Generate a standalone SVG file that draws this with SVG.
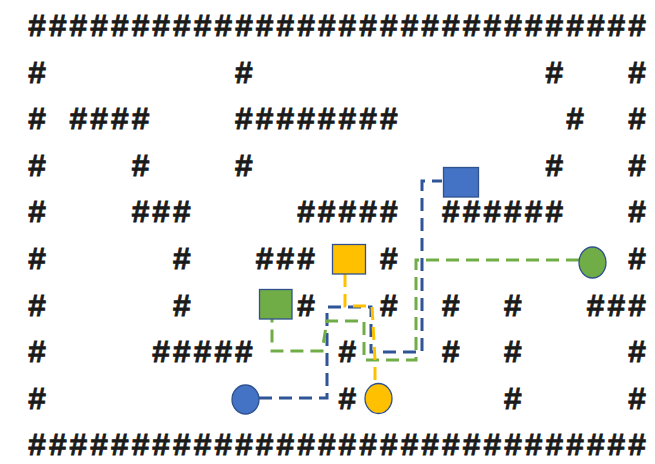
<svg xmlns="http://www.w3.org/2000/svg" width="655" height="464" viewBox="0 0 655 464">
<style>
.m{font-family:"Liberation Mono","DejaVu Sans Mono",monospace;font-size:31px;font-weight:bold;letter-spacing:2.09px;fill:#1a1a1a;stroke:#1a1a1a;stroke-width:0.8}
.d{fill:none;stroke-width:3;stroke-dasharray:13 7}
.b{stroke:#2F5597}.g{stroke:#70AD47}.y{stroke:#FFC000}
.o{stroke:#2F528F;stroke-width:1.3}
</style>
<rect width="655" height="464" fill="#fff"/>
<g id="maze" class="m" transform="translate(-0.3,0.3)">
<text x="28" y="36">##############################</text>
<text x="28" y="82.6">#</text><text x="234.9" y="82.6">#</text><text x="545.25" y="82.6">#</text><text x="628.01" y="82.6">#</text>
<text x="28" y="129">#</text><text x="69.38" y="129">####</text><text x="234.9" y="129">########</text><text x="565.94" y="129">#</text><text x="628.01" y="129">#</text>
<text x="28" y="175.6">#</text><text x="131.45" y="175.6">#</text><text x="234.9" y="175.6">#</text><text x="545.25" y="175.6">#</text><text x="628.01" y="175.6">#</text>
<text x="28" y="222.2">#</text><text x="131.45" y="222.2">###</text><text x="296.97" y="222.2">#####</text><text x="441.8" y="222.2">######</text><text x="628.01" y="222.2">#</text>
<text x="28" y="268.8">#</text><text x="172.83" y="268.8">#</text><text x="255.59" y="268.8">###</text><text x="379.73" y="268.8">#</text><text x="628.01" y="268.8">#</text>
<text x="28" y="315.4">#</text><text x="172.83" y="315.4">#</text><text x="296.97" y="315.4">#</text><text x="379.73" y="315.4">#</text><text x="441.8" y="315.4">#</text><text x="503.87" y="315.4">#</text><text x="586.63" y="315.4">###</text>
<text x="28" y="362">#</text><text x="152.14" y="362">#####</text><text x="338.35" y="362">#</text><text x="441.8" y="362">#</text><text x="503.87" y="362">#</text><text x="628.01" y="362">#</text>
<text x="28" y="408.6">#</text><text x="338.35" y="408.6">#</text><text x="503.87" y="408.6">#</text><text x="628.01" y="408.6">#</text>
<text x="28" y="455.2">##############################</text>
</g>
<g id="connectors">
<path class="d b" d="M259,398 H327 V307 H371 V352 H422 V181 H442"/>
<path class="d g" d="M579,260 H416 V360 H364 V321 H327 L322,351 H272 V319"/>
<path class="d y" d="M345,274 V306 H372 L375,360 V383"/>
</g>
<g id="blue-square"><rect class="o" x="443.5" y="167.5" width="35" height="29.5" fill="#4472C4"/></g>
<g id="yellow-square"><rect class="o" x="332.5" y="244.5" width="33" height="29.5" fill="#FFC000"/></g>
<g id="green-square"><rect class="o" x="259.5" y="289.5" width="32.5" height="29.5" fill="#70AD47"/></g>
<g id="green-circle"><ellipse class="o" cx="592.5" cy="262.5" rx="13.5" ry="15.5" fill="#70AD47"/></g>
<g id="blue-circle"><ellipse class="o" cx="245.5" cy="399.5" rx="13.5" ry="14.5" fill="#4472C4"/></g>
<g id="yellow-circle"><ellipse class="o" cx="378.5" cy="398.5" rx="13.5" ry="15" fill="#FFC000"/></g>
</svg>
